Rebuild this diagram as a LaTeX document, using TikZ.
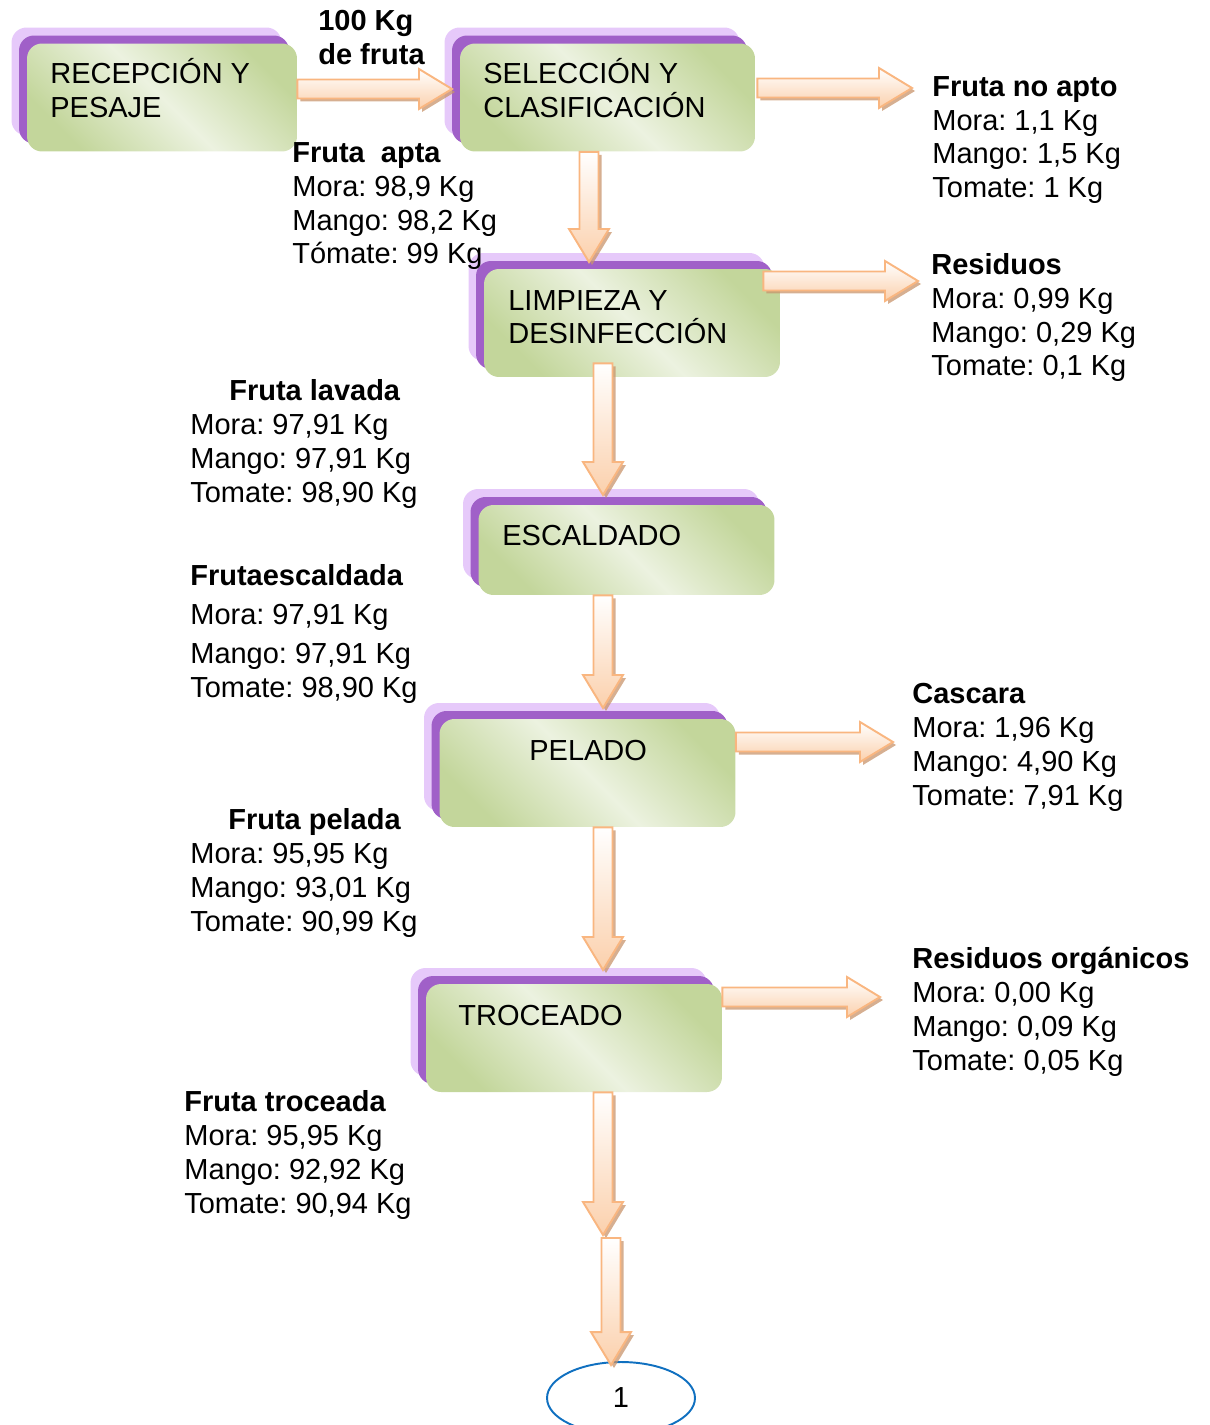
\documentclass[tikz,border=0pt]{standalone}
\usepackage{fontspec}
\setmainfont{Liberation Sans}
\usetikzlibrary{calc, shapes.geometric, shadows}
\usepackage{xcolor}
\frenchspacing

\definecolor{boxgreen}{RGB}{195,214,155}
\definecolor{boxlight}{RGB}{236,242,224}
\definecolor{purpledark}{RGB}{160,96,200}
\definecolor{purplelight}{RGB}{230,201,250}
\definecolor{arrowpeach}{RGB}{251,208,172}
\definecolor{arrowline}{RGB}{249,182,128}
\definecolor{arrowshade}{RGB}{200,148,108}
\definecolor{ovalblue}{RGB}{16,112,192}

\newcommand{\arrowoutline}{($(tl)!0.19cm!90:(hd)$) -- ($(nk)!0.19cm!90:(hd)$) -- ($(nk)!0.4cm!90:(hd)$) -- (hd) -- ($(nk)!0.4cm!-90:(hd)$) -- ($(nk)!0.19cm!-90:(hd)$) -- ($(tl)!0.19cm!-90:(hd)$) -- cycle}
\newcommand{\blockarrow}[2]{%
  \path #1 coordinate (tl) #2 coordinate (hd);
  \path ($(hd)!0.66cm!(tl)$) coordinate (nk);
  \fill[arrowshade, fill opacity=0.75, transform canvas={shift={(0.06cm,-0.06cm)}}] \arrowoutline;
  \draw[bigarrow] \arrowoutline;
}

\begin{document}
\begin{tikzpicture}[x=0.02cm, y=-0.02cm,
  box/.style={rounded corners=0.3cm, inner sep=0pt, minimum width=5.92cm, minimum height=2.16cm,
    general shadow={fill=purplelight, shadow xshift=-0.31cm, shadow yshift=0.32cm},
    general shadow={fill=purpledark, shadow xshift=-0.16cm, shadow yshift=0.16cm},
    top color=boxgreen, bottom color=boxgreen, middle color=boxlight, shading angle=-45},
  lbl/.style={anchor=base west, inner sep=0pt, align=left, font=\fontsize{16.5}{19.35}\selectfont},
  bigarrow/.style={draw=arrowline, line width=1.1pt, top color=white, bottom color=arrowpeach}]
\useasboundingbox (0,0) rectangle (1209,1425);

\node[box, minimum width=5.4cm] (rec) at (162,97.5) {};
\node[box, minimum width=5.9cm] (sel) at (607.5,97.5) {};
\node[box] (lim) at (632,323) {};
\node[box, minimum height=1.8cm] (esc) at (626.5,550) {};
\node[box] (pel) at (587.5,773) {};
\node[box] (tro) at (574,1038) {};
\node[ellipse, draw=ovalblue, line width=1.1pt, minimum width=2.96cm, minimum height=1.44cm, inner sep=0pt,
  font=\fontsize{16.5}{19.35}\selectfont] (one) at (621,1398) {1};

\coordinate (a1) at (452,89);
\coordinate (a2) at (912,88);
\coordinate (a3) at (589,262);
\coordinate (a4) at (918,281);
\coordinate (a5) at (603,495);
\coordinate (a6) at (603,708);
\coordinate (a7) at (893,742);
\coordinate (a8) at (603,970);
\coordinate (a9) at (880,997);
\coordinate (a10) at (603,1235);
\coordinate (a11) at (611,1238);

\blockarrow{(rec.east |- a1)}{(a1)}
\blockarrow{([xshift=0.04cm]sel.east |- a2)}{(a2)}
\blockarrow{(sel.south -| a3)}{(a3)}
\blockarrow{([xshift=-0.34cm]lim.east |- a4)}{(a4)}
\blockarrow{([yshift=0.28cm]lim.south -| a5)}{(a5)}
\blockarrow{(esc.south -| a6)}{(a6)}
\blockarrow{(pel.east |- a7)}{(a7)}
\blockarrow{(pel.south -| a8)}{(a8)}
\blockarrow{(tro.east |- a9)}{(a9)}
\blockarrow{(tro.south -| a10)}{(a10)}
\blockarrow{(a11)}{([yshift=-0.08cm]one.north -| a11)}

\node[lbl] (recT) at (50,118) {RECEPCIÓN Y\\PESAJE};
\node[lbl] (selT) at (483,118) {SELECCIÓN Y\\CLASIFICACIÓN};
\node[lbl] (limT) at (508,344) {LIMPIEZA Y\\DESINFECCIÓN};
\node[lbl] (escT) at (502,545) {ESCALDADO};
\node[lbl] (pelT) at (529,760) {PELADO};
\node[lbl] (troT) at (458,1025) {TROCEADO};

\node[lbl] (entra) at (318,65) {\textbf{100 Kg}\\\textbf{de fruta}};
\node[lbl] (apta) at (292,264) {\textbf{Fruta~~apta}\\Mora: 98,9 Kg\\Mango: 98,2 Kg\\Tómate: 99 Kg};
\node[lbl] (noapto) at (932,198) {\textbf{Fruta no apto}\\Mora: 1,1 Kg\\Mango: 1,5 Kg\\Tomate: 1 Kg};
\node[lbl] (resid) at (931,376) {\textbf{Residuos}\\Mora: 0,99 Kg\\Mango: 0,29 Kg\\Tomate: 0,1 Kg};
\node[lbl] (lavada) at (190,502) {\hspace*{0.78cm}\textbf{Fruta lavada}\\Mora: 97,91 Kg\\Mango: 97,91 Kg\\Tomate: 98,90 Kg};
\node[lbl] (escal) at (190,697) {\textbf{Frutaescaldada}\\[0.1cm]Mora: 97,91 Kg\\[0.1cm]Mango: 97,91 Kg\\Tomate: 98,90 Kg};
\node[lbl] (cascara) at (912,805) {\textbf{Cascara}\\Mora: 1,96 Kg\\Mango: 4,90 Kg\\Tomate: 7,91 Kg};
\node[lbl] (pelada) at (190,931) {\hspace*{0.76cm}\textbf{Fruta pelada}\\Mora: 95,95 Kg\\Mango: 93,01 Kg\\Tomate: 90,99 Kg};
\node[lbl] (organ) at (912,1070) {\textbf{Residuos orgánicos}\\Mora: 0,00 Kg\\Mango: 0,09 Kg\\Tomate: 0,05 Kg};
\node[lbl] (trozos) at (184,1213) {\textbf{Fruta troceada}\\Mora: 95,95 Kg\\Mango: 92,92 Kg\\Tomate: 90,94 Kg};
\end{tikzpicture}
\end{document}
